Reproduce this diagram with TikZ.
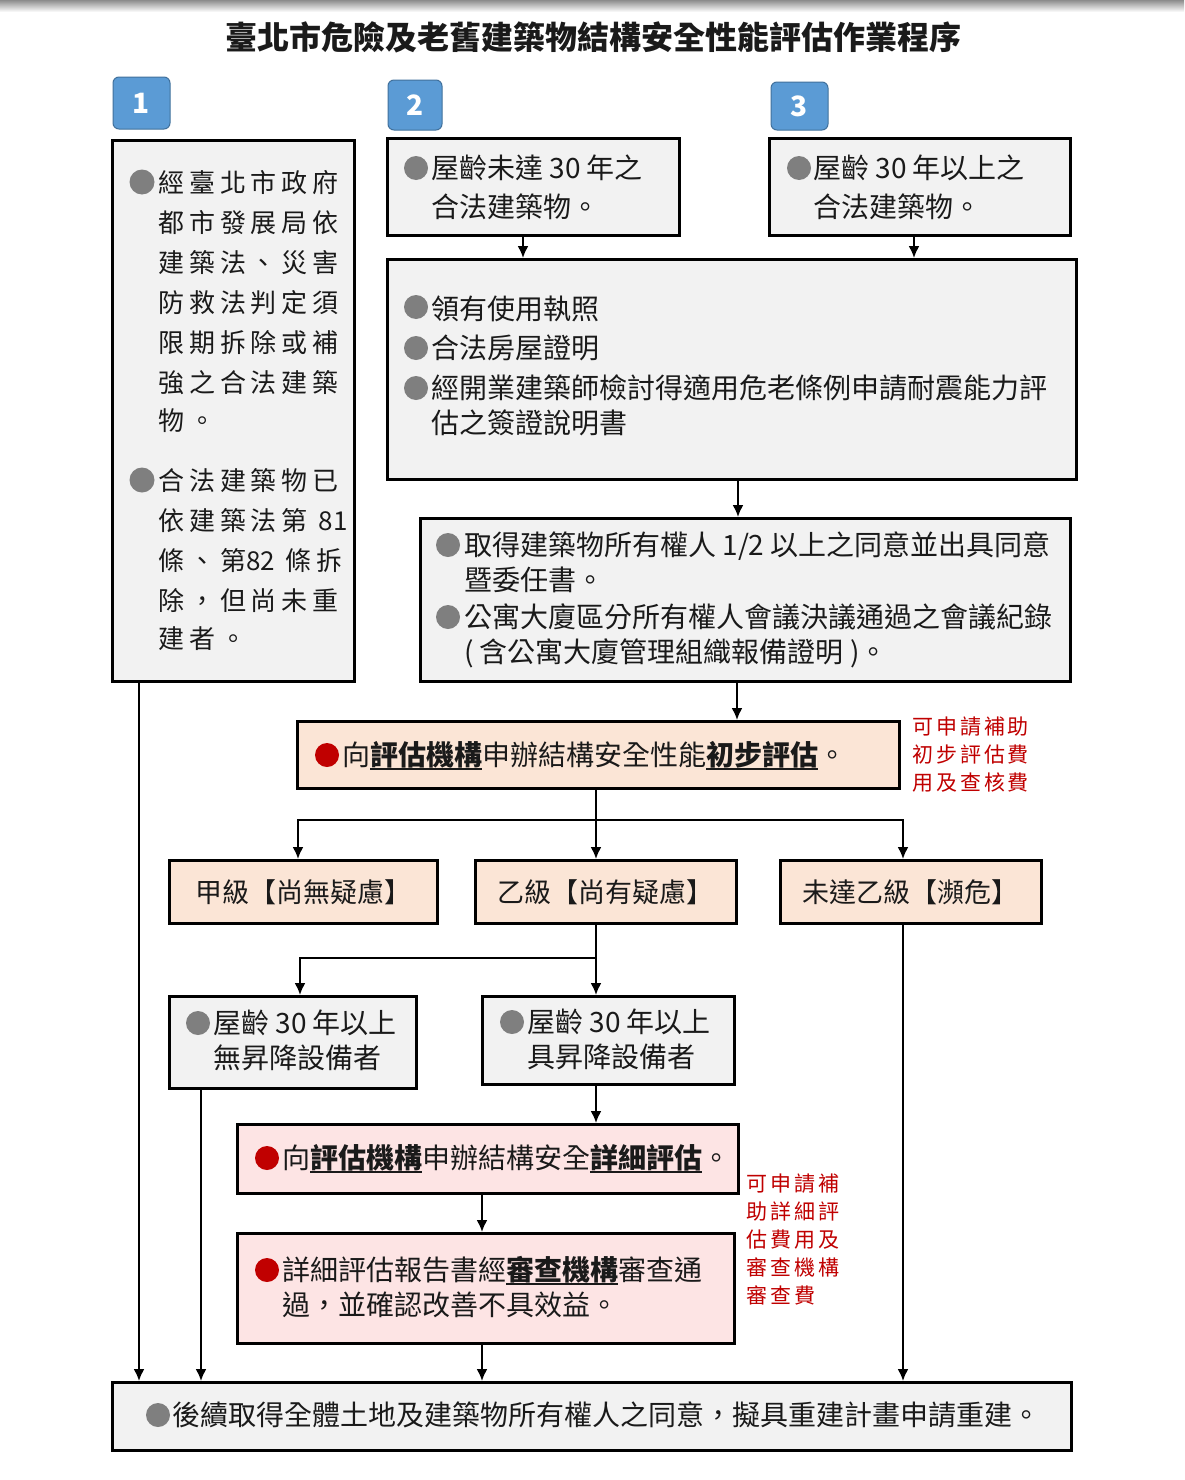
\documentclass[tikz,border=0pt]{standalone}
\usepackage{fontspec}
\setmainfont{Noto Sans CJK TC}
\newfontfamily\spc{Noto Sans CJK TC}[LetterSpace=19]
\newfontfamily\anf{Noto Sans CJK TC}[LetterSpace=14]
\usetikzlibrary{arrows.meta}
\definecolor{boxg}{HTML}{F2F2F2}
\definecolor{peach}{HTML}{FBE5D6}
\definecolor{pinkc}{HTML}{FDE4E4}
\definecolor{bulg}{HTML}{7F7F7F}
\definecolor{bulr}{HTML}{C00000}
\definecolor{annr}{HTML}{C00000}
\definecolor{badge}{HTML}{5B9BD5}
\definecolor{badgeb}{HTML}{41719C}
\definecolor{txtc}{HTML}{1A1A1A}
\newcommand\ulb[1]{\setbox0\hbox{\bfseries#1}\rlap{\rule[-4.5pt]{\wd0}{1.8pt}}\box0}
\newcommand\nsp[1]{{\rmfamily #1}}
\begin{document}
\begin{tikzpicture}[x=1pt,y=-1pt,
 box/.style={draw=black, line width=2.5pt, anchor=north west, inner sep=0},
 gbox/.style={box, fill=boxg},
 pbox/.style={box, fill=peach},
 rbox/.style={box, fill=pinkc},
 badgebox/.style={fill=badge, draw=badgeb, line width=1pt, rounded corners=6pt, text=white, font=\fontsize{28}{30}\selectfont\bfseries, inner sep=0},
 txt/.style={anchor=base west, inner sep=0, text=txtc, font=\fontsize{28}{30}\selectfont},
 stxt/.style={txt, font=\spc\fontsize{26}{30}\selectfont},
 atxt/.style={anchor=base west, inner sep=0, text=annr, font=\anf\fontsize{21}{24}\selectfont},
 ctxt/.style={inner sep=0, text=txtc, font=\fontsize{27}{30}\selectfont},
 arr/.style={line width=2pt, -{Latex[length=12pt,width=11pt]}},
 ln/.style={line width=2pt},
]
\useasboundingbox (0,0) rectangle (1184,1480);
\fill[white] (0,0) rectangle (1184,1480);
\shade[top color=black!45, bottom color=white] (0,0) rectangle (1184,12);

% title
\node[anchor=base, inner sep=0, text=txtc, font=\fontsize{32}{34}\selectfont\bfseries] (title) at (593,49) {臺北市危險及老舊建築物結構安全性能評估作業程序};

% badges
\node[badgebox, minimum width=57pt, minimum height=52pt] (n1) at (141.5,103) {1};
\node[badgebox, minimum width=54pt, minimum height=50pt] (n2) at (415,105) {2};
\node[badgebox, minimum width=57pt, minimum height=48pt] (n3) at (799.5,106) {3};

% boxes
\node[gbox, minimum width=242pt, minimum height=541pt] (b1) at (111,139) {};
\node[gbox, minimum width=292pt, minimum height=97pt] (b2) at (386,137) {};
\node[gbox, minimum width=301pt, minimum height=97pt] (b3) at (768,137) {};
\node[gbox, minimum width=689pt, minimum height=220pt] (b4) at (386,258) {};
\node[gbox, minimum width=650pt, minimum height=163pt] (b5) at (419,517) {};
\node[pbox, minimum width=602pt, minimum height=67pt] (b6) at (296,720) {};
\node[pbox, minimum width=268pt, minimum height=63pt] (b7) at (168,859) {};
\node[pbox, minimum width=261pt, minimum height=63pt] (b8) at (474,859) {};
\node[pbox, minimum width=261pt, minimum height=63pt] (b9) at (779,859) {};
\node[gbox, minimum width=247pt, minimum height=92pt] (b10) at (168,995) {};
\node[gbox, minimum width=252pt, minimum height=88pt] (b11) at (481,995) {};
\node[rbox, minimum width=501pt, minimum height=69pt] (b12) at (236,1123) {};
\node[rbox, minimum width=497pt, minimum height=110pt] (b13) at (236,1232) {};
\node[gbox, minimum width=959pt, minimum height=68pt] (b14) at (111,1381) {};

% bullets
\fill[bulg] (142,182) circle (12.5pt);
\fill[bulg] (142,480) circle (12.5pt);
\fill[bulg] (416,168) circle (12pt);
\fill[bulg] (799,168) circle (12pt);
\fill[bulg] (416,307) circle (12pt);
\fill[bulg] (416,348) circle (12pt);
\fill[bulg] (416,388) circle (12pt);
\fill[bulg] (448,545) circle (12pt);
\fill[bulg] (448,617) circle (12pt);
\fill[bulr] (327,755) circle (12pt);
\fill[bulg] (198,1023) circle (12pt);
\fill[bulg] (512,1022) circle (12pt);
\fill[bulr] (267,1158) circle (12pt);
\fill[bulr] (267,1270) circle (12pt);
\fill[bulg] (158,1415) circle (12pt);

% box 1 text
\node[stxt] (t1a) at (158,192) {經臺北市政府};
\node[stxt] (t1b) at (158,232) {都市發展局依};
\node[stxt] (t1c) at (158,272) {建築法、災害};
\node[stxt] (t1d) at (158,312) {防救法判定須};
\node[stxt] (t1e) at (158,352) {限期拆除或補};
\node[stxt] (t1f) at (158,392) {強之合法建築};
\node[stxt] (t1g) at (158,430) {物。};
\node[stxt] (t1h) at (158,490) {合法建築物已};
\node[stxt] (t1i) at (158,530) {依建築法第 \nsp{81}};
\node[stxt] (t1j) at (158,570) {條、第\nsp{82} 條拆};
\node[stxt] (t1k) at (158,610) {除，但尚未重};
\node[stxt] (t1l) at (158,648) {建者。};

% box 2, 3
\node[txt] (t2a) at (431,178.5) {屋齡未達 30 年之};
\node[txt] (t2b) at (431,217.5) {合法建築物。};
\node[txt] (t3a) at (813,178.5) {屋齡 30 年以上之};
\node[txt] (t3b) at (813,217.5) {合法建築物。};

% box 4
\node[txt] (t4a) at (431,319.5) {領有使用執照};
\node[txt] (t4b) at (431,358.5) {合法房屋證明};
\node[txt] (t4c) at (431,398.5) {經開業建築師檢討得適用危老條例申請耐震能力評};
\node[txt] (t4d) at (431,433.5) {估之簽證說明書};

% box 5
\node[txt] (t5a) at (464,555.5) {取得建築物所有權人 1/2 以上之同意並出具同意};
\node[txt] (t5b) at (464,590.5) {暨委任書。};
\node[txt] (t5c) at (464,627.5) {公寓大廈區分所有權人會議決議通過之會議紀錄};
\node[txt] (t5d) at (464,662.5) {( 含公寓大廈管理組織報備證明 )。};

% box 6
\node[txt] (t6) at (342,765.5) {向\ulb{評估機構}申辦結構安全性能\ulb{初步評估}。};
\node[atxt] (a1a) at (912,734) {可申請補助};
\node[atxt] (a1b) at (912,762) {初步評估費};
\node[atxt] (a1c) at (912,790) {用及查核費};

% grades
\node[ctxt] (t7) at (b7.center) {甲級【尚無疑慮】};
\node[ctxt] (t8) at (b8.center) {乙級【尚有疑慮】};
\node[ctxt] (t9) at (b9.center) {未達乙級【瀕危】};

% box 10, 11
\node[txt] (t10a) at (213,1033.5) {屋齡 30 年以上};
\node[txt] (t10b) at (213,1068.5) {無昇降設備者};
\node[txt] (t11a) at (527,1032.5) {屋齡 30 年以上};
\node[txt] (t11b) at (527,1067.5) {具昇降設備者};

% box 12, 13
\node[txt] (t12) at (282,1168.5) {向\ulb{評估機構}申辦結構安全\ulb{詳細評估}。};
\node[txt] (t13a) at (282,1280.5) {詳細評估報告書經\ulb{審查機構}審查通};
\node[txt] (t13b) at (282,1315.5) {過，並確認改善不具效益。};
\node[atxt] (a2a) at (746,1191) {可申請補};
\node[atxt] (a2b) at (746,1219) {助詳細評};
\node[atxt] (a2c) at (746,1247) {估費用及};
\node[atxt] (a2d) at (746,1275) {審查機構};
\node[atxt] (a2e) at (746,1303) {審查費};

% box 14
\node[txt] (t14) at (172,1425.5) {後續取得全體土地及建築物所有權人之同意，擬具重建計畫申請重建。};

% connectors
\coordinate (x523) at (523,0);
\coordinate (x914) at (914,0);
\coordinate (x738) at (738,0);
\coordinate (x737) at (737,0);
\coordinate (j1) at (596,820);
\coordinate (jl) at (298,820);
\coordinate (jr) at (903,820);
\coordinate (j2) at (596,958);
\coordinate (j2l) at (300,958);
\coordinate (x482) at (482,0);
\coordinate (x139) at (139,0);
\coordinate (x201) at (201,0);

\draw[arr] (b2.south -| x523) -- (b4.north -| x523);
\draw[arr] (b3.south -| x914) -- (b4.north -| x914);
\draw[arr] (b4.south -| x738) -- (b5.north -| x738);
\draw[arr] (b5.south -| x737) -- (b6.north -| x737);
\draw[arr] (b6.south -| j1) -- (b8.north -| j1);
\draw[arr] (j1) -| (b7.north -| jl);
\draw[arr] (j1) -| (b9.north -| jr);
\draw[arr] (b8.south -| j2) -- (b11.north -| j2);
\draw[arr] (j2) -| (b10.north -| j2l);
\draw[arr] (b11.south -| j2) -- (b12.north -| j2);
\draw[arr] (b12.south -| x482) -- (b13.north -| x482);
\draw[arr] (b13.south -| x482) -- (b14.north -| x482);
\draw[arr] (b1.south -| x139) -- (b14.north -| x139);
\draw[arr] (b10.south -| x201) -- (b14.north -| x201);
\draw[arr] (b9.south -| jr) -- (b14.north -| jr);
\end{tikzpicture}
\end{document}
